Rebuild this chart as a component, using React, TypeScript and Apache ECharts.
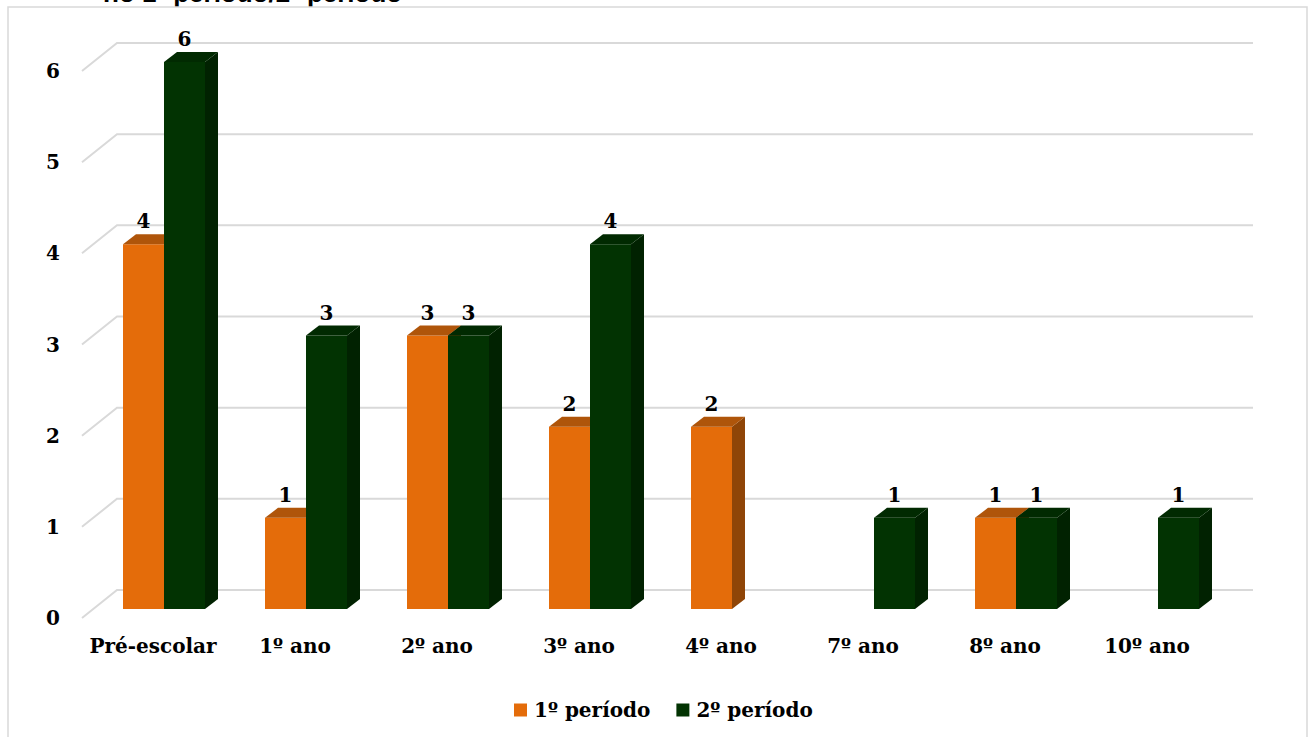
import React, { useEffect, useRef } from "react";
import * as echarts from "echarts";

const categories = ["Pré-escolar", "1º ano", "2º ano", "3º ano", "4º ano", "7º ano", "8º ano", "10º ano"];
const periodo1 = [4, 1, 3, 2, 2, 0, 1, 0];
const periodo2 = [6, 3, 3, 4, 0, 1, 1, 1];
const yTicks = [0, 1, 2, 3, 4, 5, 6];
const seriesNames = ["1º período", "2º período"];
const titleText = "no 1º período/2º período";

const FONT = "'DejaVu Serif', serif";
const palettes = [
  { front: "#E46C0A", top: "#AF550A", side: "#8F4507" },
  { front: "#023302", top: "#012A01", side: "#012201" },
];

export default function App() {
  const ref = useRef<HTMLDivElement>(null);
  useEffect(() => {
    document.body.style.margin = "0";
    const chart = echarts.init(ref.current!, undefined, { renderer: "svg" });
    const DX = 13, DY = -10, BW = 41;
    const barSeries = (idx: number, data: number[]) => ({
      type: "custom",
      name: seriesNames[idx],
      xAxisIndex: 0,
      yAxisIndex: 0,
      z: 5 + idx,
      itemStyle: { color: palettes[idx].front },
      data: data.map((v, i) => [i, v]),
      renderItem: (params: any, api: any) => {
        const cat = api.value(0);
        const v = api.value(1);
        if (!v) return null;
        const p = api.coord([cat, v]);
        const p0 = api.coord([cat, 0]);
        const x0 = idx === 0 ? p[0] - BW : p[0];
        const yt = p[1];
        const yb = p0[1];
        const pal = palettes[idx];
        return {
          type: "group",
          children: [
            {
              type: "polygon",
              shape: { points: [[x0 + BW, yt], [x0 + BW + DX, yt + DY], [x0 + BW + DX, yb + DY], [x0 + BW, yb]] },
              style: { fill: pal.side },
            },
            {
              type: "rect",
              shape: { x: x0, y: yt, width: BW, height: yb - yt },
              style: { fill: pal.front },
            },
            {
              type: "polygon",
              shape: { points: [[x0, yt], [x0 + BW, yt], [x0 + BW + DX, yt + DY], [x0 + DX, yt + DY]] },
              style: { fill: pal.top },
            },
            {
              type: "text",
              style: {
                text: String(v),
                x: x0 + BW / 2,
                y: yt - 13,
                align: "center",
                verticalAlign: "bottom",
                fontFamily: FONT,
                fontWeight: "bold",
                fontSize: 20,
                fill: "#000",
              },
            },
          ],
        };
      },
    });

    chart.setOption({
      animation: false,
      backgroundColor: "#fff",
      graphic: [
        {
          type: "text",
          x: 103,
          y: -7,
          z: -20,
          style: {
            text: titleText,
            fontFamily: "'Liberation Sans', sans-serif",
            fontWeight: "bold",
            fontSize: 26,
            fill: "#000",
            verticalAlign: "middle",
          },
        },
        {
          type: "rect",
          z: -10,
          shape: { x: 8, y: 7, width: 1299, height: 740 },
          style: { fill: "#fff", stroke: "#D9D9D9", lineWidth: 1.5 },
        },
      ],
      legend: {
        left: 509,
        top: 695,
        itemWidth: 13,
        itemHeight: 13,
        itemGap: 26,
        icon: "rect",
        data: seriesNames,
        textStyle: { fontFamily: FONT, fontWeight: "bold", fontSize: 20, color: "#000", padding: [0, 0, 0, 2] },
      },
      grid: [
        { left: 93, top: 62, width: 1136, height: 547 },
        { left: 82, top: 71, width: 1136, height: 547 },
      ],
      xAxis: [
        { type: "category", gridIndex: 0, data: categories, show: false },
        {
          type: "category",
          gridIndex: 1,
          data: categories,
          z: 3,
          axisLine: { show: false },
          axisTick: { show: false },
          axisLabel: { margin: 18, fontFamily: FONT, fontWeight: "bold", fontSize: 20, color: "#000", interval: 0 },
        },
      ],
      yAxis: [
        { type: "value", gridIndex: 0, min: 0, max: 6, interval: 1, show: false },
        {
          type: "value",
          gridIndex: 1,
          min: 0,
          max: 6,
          interval: 1,
          z: 3,
          axisLine: { show: false },
          axisTick: { show: false },
          splitLine: { show: false },
          axisLabel: { margin: 22, fontFamily: FONT, fontWeight: "bold", fontSize: 20, color: "#000" },
        },
      ],
      series: [
        {
          type: "custom",
          name: "grid",
          xAxisIndex: 0,
          yAxisIndex: 0,
          z: 2,
          silent: true,
          data: yTicks.map((v) => [0, v]),
          renderItem: (params: any, api: any) => {
            const v = api.value(1);
            const p = api.coord([0, v]);
            const band = api.size([1, 0])[0];
            const left = p[0] - band / 2;
            const right = left + band * categories.length;
            return {
              type: "polyline",
              shape: { points: [[left - 11, p[1] + 9], [left + 24, p[1] - 19], [right + 24, p[1] - 19]] },
              style: { stroke: "#D9D9D9", lineWidth: 2, fill: "none" },
            };
          },
        },
        barSeries(0, periodo1),
        barSeries(1, periodo2),
      ],
    });
    return () => chart.dispose();
  }, []);
  return <div ref={ref} style={{ width: 1312, height: 737 }} />;
}
